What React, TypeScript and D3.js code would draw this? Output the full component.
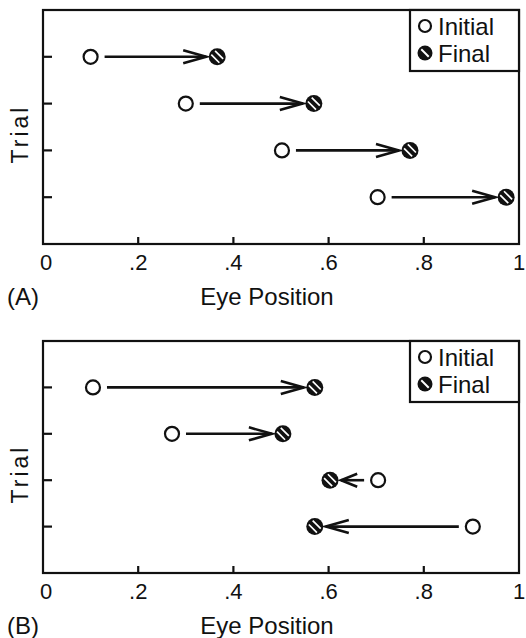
import React from "react";
import * as d3 from "d3";

// trials, top to bottom
const trials = [1, 2, 3, 4];
const xTicks = [0, 0.2, 0.4, 0.6, 0.8, 1];
const xTickLabels = ["0", ".2", ".4", ".6", ".8", "1"];

// eye position per trial
const initialA = [0.1, 0.3, 0.502, 0.703];
const finalA = [0.366, 0.569, 0.771, 0.973];
const initialB = [0.105, 0.271, 0.704, 0.903];
const finalB = [0.571, 0.504, 0.603, 0.571];

const legendLabels = ["Initial", "Final"];

const W = 526;
const H = 638;
const font = "'Liberation Sans', Arial, Helvetica, sans-serif";
const left = 43;
const right = 519;

const x = d3.scaleLinear().domain([0, 1]).range([left, right]);

const InitialMarker = ({ cx, cy, r = 7 }) => (
  <circle cx={cx} cy={cy} r={r} fill="#fff" stroke="#111" strokeWidth={2.2} />
);

const FinalMarker = ({ cx, cy, r = 8.5, stripes = [-2.7, 2.7], sw = 1.7 }) => {
  const inner = r - 2.2;
  // stripes run from upper-left to lower-right
  const u = [Math.SQRT1_2, Math.SQRT1_2];
  const p = [Math.SQRT1_2, -Math.SQRT1_2];
  return (
    <g>
      <circle cx={cx} cy={cy} r={r} fill="#111" />
      {stripes.map((d, i) => {
        const L = Math.sqrt(Math.max(0, inner * inner - d * d));
        const mx = cx + p[0] * d;
        const my = cy + p[1] * d;
        return (
          <line
            key={i}
            x1={mx - u[0] * L}
            y1={my - u[1] * L}
            x2={mx + u[0] * L}
            y2={my + u[1] * L}
            stroke="#fff"
            strokeWidth={sw}
          />
        );
      })}
    </g>
  );
};

const Arrow = ({ x0, x1, y }) => {
  const sign = x1 > x0 ? 1 : -1;
  const start = x0 + sign * 14;
  const tip = x1 - sign * 11;
  const len = Math.abs(tip - start);
  const head = Math.min(23, len * 0.7);
  const hw = 6.5;
  const back = tip - sign * head;
  return (
    <g stroke="#111" strokeWidth={2.6} fill="none" strokeLinejoin="miter">
      <line x1={start} y1={y} x2={tip} y2={y} />
      <polyline points={`${back},${y - hw} ${tip},${y} ${back},${y + hw}`} />
    </g>
  );
};

const Panel = ({ top, bottom, tag, initial, final, trialY }) => {
  const y = d3.scaleLinear().domain([0, 5]).range([bottom, top]);
  const yOf = (t) => y(5 - t);
  return (
    <g>
      <rect
        x={left}
        y={top}
        width={right - left}
        height={bottom - top}
        fill="none"
        stroke="#111"
        strokeWidth={2.2}
      />
      {xTicks.slice(1, -1).map((t) => (
        <line key={t} x1={x(t)} x2={x(t)} y1={bottom} y2={bottom - 7} stroke="#111" strokeWidth={2.2} />
      ))}
      {trials.map((t) => (
        <line key={t} x1={left} x2={left + 9} y1={yOf(t)} y2={yOf(t)} stroke="#111" strokeWidth={2.2} />
      ))}
      {xTicks.map((t, i) => (
        <text
          key={t}
          x={x(t) + (i === 0 ? 3 : 0)}
          y={bottom + 26}
          textAnchor="middle"
          fontSize={22}
          fontFamily={font}
          fill="#111"
        >
          {xTickLabels[i]}
        </text>
      ))}
      <text x={267} y={bottom + 61} textAnchor="middle" fontSize={24} fontFamily={font} fill="#111">
        Eye Position
      </text>
      <text x={7} y={bottom + 61} fontSize={24} fontFamily={font} fill="#111">
        {tag}
      </text>
      <text
        transform={`translate(28,${trialY}) rotate(-90)`}
        textAnchor="middle"
        fontSize={23}
        letterSpacing={3}
        fontFamily={font}
        fill="#111"
      >
        Trial
      </text>

      {trials.map((t, i) => (
        <g key={t}>
          <Arrow x0={x(initial[i])} x1={x(final[i])} y={yOf(t)} />
          <InitialMarker cx={x(initial[i])} cy={yOf(t)} />
          <FinalMarker cx={x(final[i])} cy={yOf(t)} />
        </g>
      ))}

      {/* legend */}
      <rect x={410} y={top} width={right - 410} height={61} fill="#fff" stroke="#111" strokeWidth={2.2} />
      <InitialMarker cx={425} cy={top + 16} r={6} />
      <FinalMarker cx={425} cy={top + 43} r={7.5} stripes={[0]} sw={2} />
      {legendLabels.map((l, i) => (
        <text key={l} x={438} y={top + 16 + i * 27 + 8.5} fontSize={24} fontFamily={font} fill="#111">
          {l}
        </text>
      ))}
    </g>
  );
};

export default function App() {
  return (
    <div style={{ position: "absolute", left: 0, top: 0 }}>
      <svg width={W} height={H} style={{ display: "block", background: "#fff" }}>
        <Panel top={10} bottom={244} tag="(A)" initial={initialA} final={finalA} trialY={134} />
        <Panel top={341} bottom={573} tag="(B)" initial={initialB} final={finalB} trialY={474} />
      </svg>
    </div>
  );
}
